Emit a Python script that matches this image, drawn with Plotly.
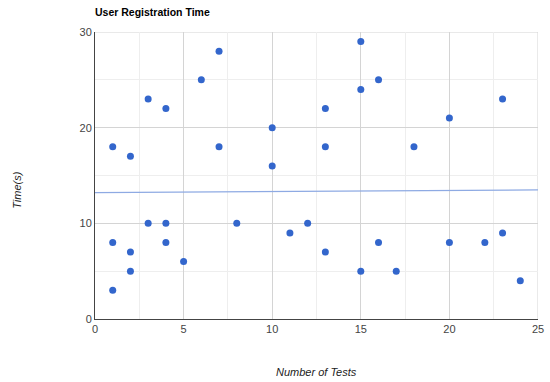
import plotly.graph_objects as go

tests = [1, 1, 1, 2, 2, 2, 3, 3, 4, 4, 4, 5, 6, 7, 7, 8, 10, 10,
         11, 12, 13, 13, 13, 15, 15, 15, 16, 16, 17, 18, 20, 20, 22, 23, 23, 24]
times = [18, 8, 3, 17, 7, 5, 23, 10, 22, 10, 8, 6, 25, 28, 18, 10, 20, 16,
         9, 10, 22, 18, 7, 29, 24, 5, 25, 8, 5, 18, 21, 8, 8, 23, 9, 4]

# trendline (ends at x = 0 and x = 25)
trend_x = [0, 25]
trend_y = [13.2, 13.5]

x_ticks = [0, 5, 10, 15, 20, 25]
y_ticks = [0, 10, 20, 30]

fig = go.Figure()
fig.add_trace(go.Scatter(x=trend_x, y=trend_y, mode="lines",
                         line=dict(color="#8eaae3", width=1.3),
                         hoverinfo="skip", showlegend=False))
fig.add_trace(go.Scatter(x=tests, y=times, mode="markers",
                         marker=dict(color="#3366cc", size=7),
                         showlegend=False))

font = "Arial, Liberation Sans, sans-serif"
fig.update_layout(
    width=550, height=382,
    margin=dict(l=95, r=12, t=32, b=63, autoexpand=False),
    paper_bgcolor="white", plot_bgcolor="white",
    font=dict(family=font, size=11, color="#444"),
    title=dict(text="<b>User Registration Time</b>", x=95/550, xanchor="left",
               y=1-12/382, yanchor="middle",
               font=dict(family=font, size=10.5, color="#000")),
    xaxis=dict(range=[0, 25], tickvals=x_ticks, showgrid=True, automargin=False,
               gridcolor="#d4d4d4", gridwidth=1,
               minor=dict(dtick=2.5, showgrid=True, gridcolor="#eeeeee", gridwidth=1),
               showline=True, linecolor="#444", linewidth=1,
               zeroline=False, ticks="", ticklen=0,
               tickfont=dict(size=11, color="#444")),
    yaxis=dict(range=[0, 30], tickvals=y_ticks, showgrid=True, automargin=False,
               gridcolor="#d4d4d4", gridwidth=1,
               minor=dict(dtick=5, showgrid=True, gridcolor="#eeeeee", gridwidth=1),
               showline=True, linecolor="#444", linewidth=1,
               zeroline=False, ticks="", ticksuffix="  ",
               tickfont=dict(size=11, color="#444")),
    annotations=[
        dict(text="<i>Number of Tests</i>", xref="paper", yref="paper",
             x=0.5, y=-53/287, xanchor="center", yanchor="middle",
             showarrow=False, font=dict(size=11, color="#222")),
        dict(text="<i>Time(s)</i>", xref="paper", yref="paper",
             x=-78/443, y=0.45, xanchor="center", yanchor="middle",
             textangle=-90, showarrow=False, font=dict(size=11, color="#222")),
    ],
)
fig.add_shape(type="line", xref="x", yref="paper", x0=25, x1=25, y0=0, y1=1,
              line=dict(color="#d4d4d4", width=1), layer="below")
fig.add_shape(type="line", xref="paper", yref="y", x0=0, x1=1, y0=30, y1=30,
              line=dict(color="#d4d4d4", width=1), layer="below")
fig.write_html("out.html", config={"displayModeBar": False},
               post_script="document.body.style.margin='0px';document.body.style.overflow='hidden';")
